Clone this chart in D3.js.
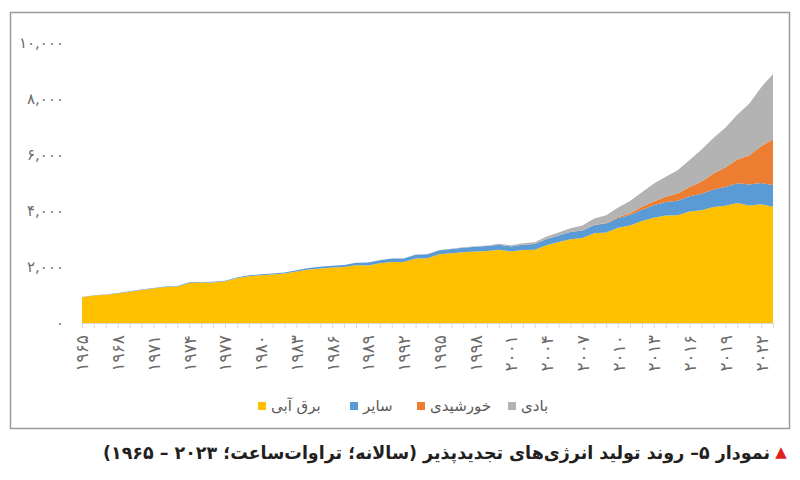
<!DOCTYPE html>
<html>
<head>
<meta charset="utf-8">
<script src="https://cdn.jsdelivr.net/npm/d3@7"></script>
<style>
  html, body { margin: 0; padding: 0; background: #fff; }
  svg { display: block; font-family: "DejaVu Sans", sans-serif; }
</style>
</head>
<body>
<svg id="chart" width="800" height="480"></svg>
<script>
const years = [1965,1966,1967,1968,1969,1970,1971,1972,1973,1974,1975,1976,1977,1978,1979,1980,1981,1982,1983,1984,1985,1986,1987,1988,1989,1990,1991,1992,1993,1994,1995,1996,1997,1998,1999,2000,2001,2002,2003,2004,2005,2006,2007,2008,2009,2010,2011,2012,2013,2014,2015,2016,2017,2018,2019,2020,2021,2022,2023];

const hydro = [920,982,1006,1058,1119,1179,1233,1288,1305,1431,1442,1450,1487,1597,1672,1707,1735,1767,1842,1914,1949,1979,2003,2064,2058,2130,2180,2176,2301,2313,2451,2488,2529,2554,2574,2616,2556,2606,2613,2781,2889,2995,3033,3205,3236,3400,3480,3640,3760,3840,3850,3980,4030,4140,4190,4290,4200,4240,4150];

const other = [12,13,13,14,15,17,18,19,20,21,22,24,25,27,29,32,36,40,45,50,56,62,72,85,100,115,122,130,136,142,148,155,162,168,174,180,178,192,205,222,236,251,273,291,314,352,376,409,443,480,515,548,583,624,663,705,746,760,775];

const solar = [0,0,0,0,0,0,0,0,0,0,0,0,0,0,0,0,0,0,0,0,0.1,0.1,0.1,0.2,0.2,0.4,0.4,0.4,0.4,0.5,0.5,0.6,0.7,0.8,0.9,1.1,1.4,1.9,2.6,3.4,4.1,5.7,7.6,12.6,20.0,32.1,63.5,99.3,139.0,190.4,256.0,328.0,445.0,574.0,703.7,846.4,1033.0,1310.0,1641.6];

const wind = [0,0,0,0,0,0,0,0,0,0,0,0,0,0,0,0,0,0,0,0,0.1,0.2,0.3,0.6,2.6,3.6,4.1,4.7,5.6,7.2,8.2,9.9,12.2,16.0,21.2,31.4,38.4,52.3,63.4,85.1,104.4,132.9,170.7,220.6,276.0,341.5,434.8,523.5,644.5,712.0,831.6,962.1,1140.5,1270.9,1420.1,1596.4,1848.3,2104.8,2325.3];

const seriesKeys = ["hydro", "other", "solar", "wind"];
const seriesNames = ["برق آبی", "سایر", "خورشیدی", "بادی"];
const seriesColors = ["#FFC000", "#5B9BD5", "#ED7D31", "#B3B3B3"];
const yTicks = [0, 2000, 4000, 6000, 8000, 10000];
const xLabelYears = [1965,1968,1971,1974,1977,1980,1983,1986,1989,1992,1995,1998,2001,2004,2007,2010,2013,2016,2019,2022];
const titleText = "نمودار ۵– روند تولید انرژی‌های تجدیدپذیر (سالانه؛ تراوات‌ساعت؛ ۲۰۲۳ – ۱۹۶۵)";

const faDigits = "۰۱۲۳۴۵۶۷۸۹";
const fa = s => String(s).replace(/[0-9]/g, d => faDigits[+d]);

const table = years.map((yr, i) => ({year: yr, hydro: hydro[i], other: other[i], solar: solar[i], wind: wind[i]}));

const svg = d3.select("#chart");

// frame
svg.append("rect")
  .attr("x", 10.5).attr("y", 12.5).attr("width", 779).attr("height", 416)
  .attr("fill", "none").attr("stroke", "#9a9a9a").attr("stroke-width", 1.5);

const x = d3.scaleLinear().domain([1965, 2023]).range([82, 773]);
const y = d3.scaleLinear().domain([0, 10000]).range([323, 43]);

const stack = d3.stack().keys(seriesKeys);
const layers = stack(table);

const area = d3.area()
  .x(d => x(d.data.year))
  .y0(d => y(d[0]))
  .y1(d => y(d[1]));

svg.append("g").selectAll("path").data(layers).join("path")
  .attr("d", area)
  .attr("fill", (d, i) => seriesColors[i]);

// x axis
const xAxis = d3.axisBottom(x)
  .tickValues(years)
  .tickSize(5)
  .tickSizeOuter(0)
  .tickFormat(d => xLabelYears.includes(d) ? fa(d) : "");

const gx = svg.append("g").attr("transform", `translate(0,${y(0)})`).call(xAxis);
gx.select(".domain").attr("stroke", "#d9d9d9");
gx.selectAll(".tick line").attr("stroke", "#d9d9d9");
gx.selectAll(".tick text")
  .attr("fill", "#6b6b6b")
  .attr("font-size", 17)
  .attr("font-family", "DejaVu Sans")
  .attr("text-anchor", "end")
  .attr("dy", "0.35em")
  .attr("y", 0)
  .attr("transform", "translate(0,12) rotate(-90)");

// y axis
const yAxis = d3.axisLeft(y)
  .tickValues(yTicks)
  .tickSize(0)
  .tickFormat(d => fa(d3.format(",")(d)));
const gy = svg.append("g").attr("transform", "translate(64,0)").call(yAxis);
gy.select(".domain").remove();
gy.selectAll(".tick text")
  .attr("fill", "#6b6b6b")
  .attr("font-size", 15)
  .attr("font-family", "DejaVu Sans")
  .attr("x", 0);

// legend
const legendX = [258, 350, 417, 508];
const lg = svg.append("g");
seriesKeys.forEach((k, i) => {
  lg.append("rect")
    .attr("x", legendX[i]).attr("y", 402).attr("width", 8).attr("height", 8)
    .attr("fill", seriesColors[i]);
  lg.append("text")
    .attr("x", legendX[i] + 13).attr("y", 411)
    .attr("font-size", 15).attr("fill", "#595959")
    .attr("font-family", "DejaVu Sans")
    .text(seriesNames[i]);
});

// title
svg.append("text")
  .attr("x", 781).attr("y", 457)
  .attr("font-size", 15).attr("fill", "#e0201c")
  .attr("text-anchor", "middle")
  .text("▲");
svg.append("text")
  .attr("x", 770).attr("y", 459)
  .attr("direction", "rtl")
  .attr("text-anchor", "start")
  .attr("font-size", 18)
  .attr("font-weight", "bold")
  .attr("fill", "#231f20")
  .attr("font-family", "DejaVu Sans")
  .attr("textLength", 667)
  .attr("lengthAdjust", "spacingAndGlyphs")
  .text(titleText);
</script>
</body>
</html>
